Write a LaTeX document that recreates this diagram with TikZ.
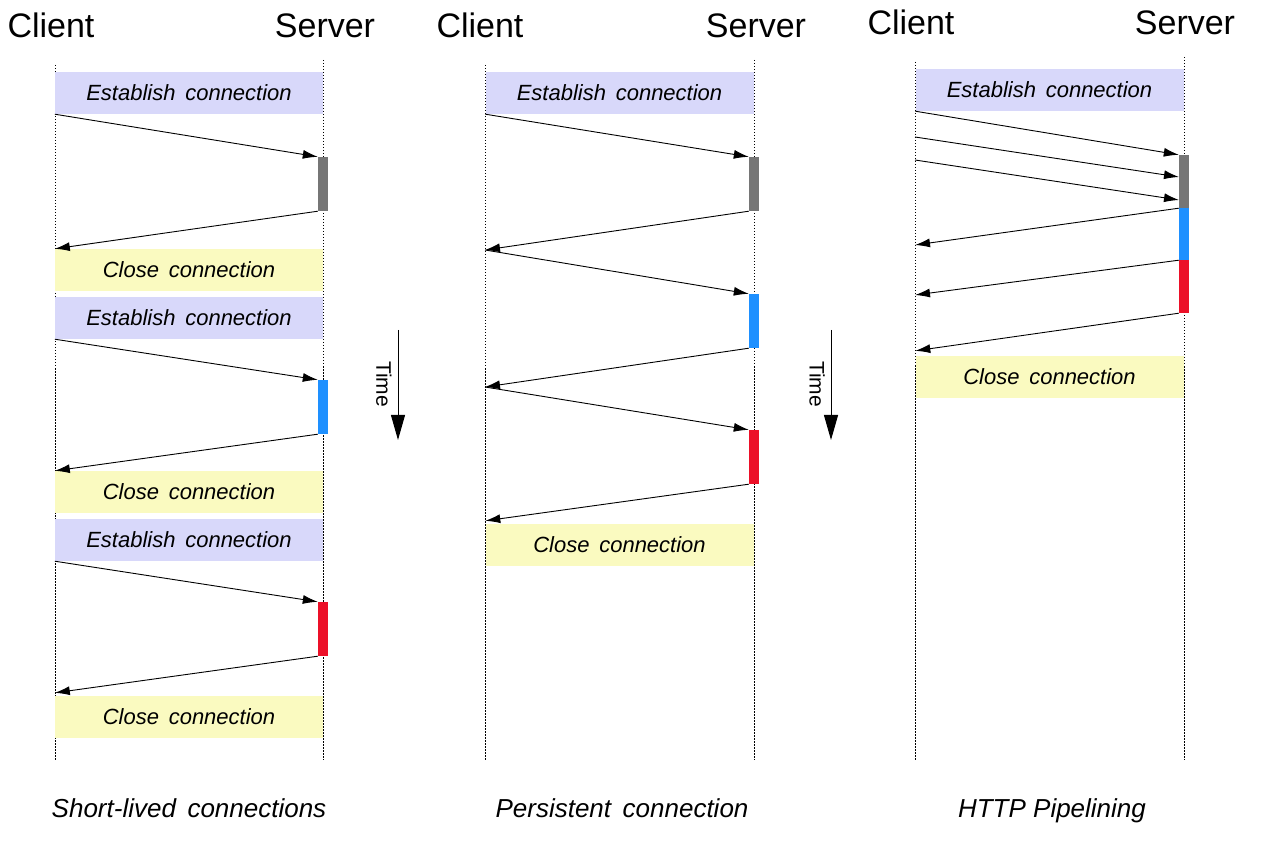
\documentclass[tikz,border=0pt]{standalone}
\usepackage{fontspec}
\setmainfont{Liberation Sans}
\usetikzlibrary{arrows.meta}

\definecolor{estfill}{RGB}{216,216,250}
\definecolor{closefill}{RGB}{250,250,192}
\definecolor{bargray}{RGB}{118,118,118}
\definecolor{barblue}{RGB}{30,144,255}
\definecolor{barred}{RGB}{236,16,40}

\begin{document}
\begin{tikzpicture}[yscale=-1, x=1pt, y=1pt,
    lifeline/.style={black, line width=0.9pt, dash pattern=on 1.5pt off 1.5pt},
    estbox/.style={fill=estfill, minimum width=268pt, minimum height=42pt, inner sep=0pt,
      font=\fontsize{22}{26}\selectfont\itshape},
    closebox/.style={estbox, fill=closefill},
    bar/.style={minimum width=10pt, minimum height=54pt, inner sep=0pt},
    msg/.style={line width=0.9pt, -{Latex[length=15pt,width=9pt]}},
    head/.style={anchor=base, font=\fontsize{34}{40}\selectfont},
    caption/.style={anchor=base, font=\fontsize{26}{30}\selectfont\itshape},
    timeline/.style={line width=1pt, -{Triangle[length=25pt,width=14pt]}}]

      \useasboundingbox (0,0) rectangle (1264,858);

      % Short-lived connections
      \node[head] (cli1) at (51,38) {Client};
      \node[head] (srv1) at (325,38) {Server};
      \draw[lifeline] (55,65) -- (55,760);
      \draw[lifeline] (323,60) -- (323,760);

      \node[estbox] (est1a) at (189,93) {Establish\, connection};
      \node[bar, fill=bargray] (gray1) at (323,184) {};
      \node[closebox] (cls1a) at (189,270) {Close\, connection};
      \draw[msg] (est1a.south west) -- (gray1.north west);
      \draw[msg] (gray1.south west) -- (cls1a.north west);

      \node[estbox] (est1b) at (189,318) {Establish\, connection};
      \node[bar, fill=barblue] (blue1) at (323,407) {};
      \node[closebox] (cls1b) at (189,492) {Close\, connection};
      \draw[msg] (est1b.south west) -- (blue1.north west);
      \draw[msg] (blue1.south west) -- (cls1b.north west);

      \node[estbox] (est1c) at (189,540) {Establish\, connection};
      \node[bar, fill=barred] (red1) at (323,629) {};
      \node[closebox] (cls1c) at (189,717) {Close\, connection};
      \draw[msg] (est1c.south west) -- (red1.north west);
      \draw[msg] (red1.south west) -- ([yshift=-3pt]cls1c.north west);

      \node[caption] (cap1) at (189,817) {Short-lived\, connections};

      % Time
      \coordinate (time1a) at (398,330);
      \coordinate (time1b) at (398,440);
      \draw[timeline] (time1a) -- (time1b);
      \node[rotate=-90, font=\fontsize{21}{25}\selectfont] (tlab1) at (384,384) {Time};

      % Persistent connection
      \node[head] (cli2) at (480,38) {Client};
      \node[head] (srv2) at (756,38) {Server};
      \draw[lifeline] (485,65) -- (485,760);
      \draw[lifeline] (754,60) -- (754,760);

      \node[estbox] (est2) at (619.5,93) {Establish\, connection};
      \node[bar, fill=bargray] (gray2) at (754,184) {};
      \node[bar, fill=barblue] (blue2) at (754,321) {};
      \node[bar, fill=barred] (red2) at (754,457) {};
      \node[closebox] (cls2) at (619.5,545) {Close\, connection};
      \coordinate (back2a) at (485,250);
      \coordinate (back2b) at (485,387);
      \draw[msg] (est2.south west) -- (gray2.north west);
      \draw[msg] (gray2.south west) -- (back2a);
      \draw[msg] (back2a) -- (blue2.north west);
      \draw[msg] (blue2.south west) -- (back2b);
      \draw[msg] (back2b) -- (red2.north west);
      \draw[msg] (red2.south west) -- ([yshift=-3pt]cls2.north west);

      \node[caption] (cap2) at (622,817) {Persistent\, connection};

      % Time
      \coordinate (time2a) at (831,330);
      \coordinate (time2b) at (831,440);
      \draw[timeline] (time2a) -- (time2b);
      \node[rotate=-90, font=\fontsize{21}{25}\selectfont] (tlab2) at (817,384) {Time};

      % HTTP Pipelining
      \node[head] (cli3) at (911,35) {Client};
      \node[head] (srv3) at (1185,35) {Server};
      \draw[lifeline] (915,62) -- (915,760);
      \draw[lifeline] (1184,57) -- (1184,760);

      \node[estbox] (est3) at (1049.5,90) {Establish\, connection};
      \node[bar, fill=bargray, minimum height=53pt] (gray3) at (1184,181.5) {};
      \node[bar, fill=barblue, minimum height=52pt] (blue3) at (1184,234) {};
      \node[bar, fill=barred, minimum height=53pt] (red3) at (1184,286.5) {};
      \node[closebox] (cls3) at (1049.5,377) {Close\, connection};
      \coordinate (req3b) at (915,137);
      \coordinate (req3c) at (915,160);
      \coordinate (hit3b) at (1179,177);
      \coordinate (hit3c) at (1179,200);
      \coordinate (ret3a) at (915,245);
      \coordinate (ret3b) at (915,295);
      \draw[msg] (est3.south west) -- (gray3.north west);
      \draw[msg] (req3b) -- (hit3b);
      \draw[msg] (req3c) -- (hit3c);
      \draw[msg] (gray3.south west) -- (ret3a);
      \draw[msg] (blue3.south west) -- (ret3b);
      \draw[msg] (red3.south west) -- ([yshift=-5pt]cls3.north west);

      \node[caption] (cap3) at (1052,817) {HTTP Pipelining};
    \end{tikzpicture}
\end{document}
